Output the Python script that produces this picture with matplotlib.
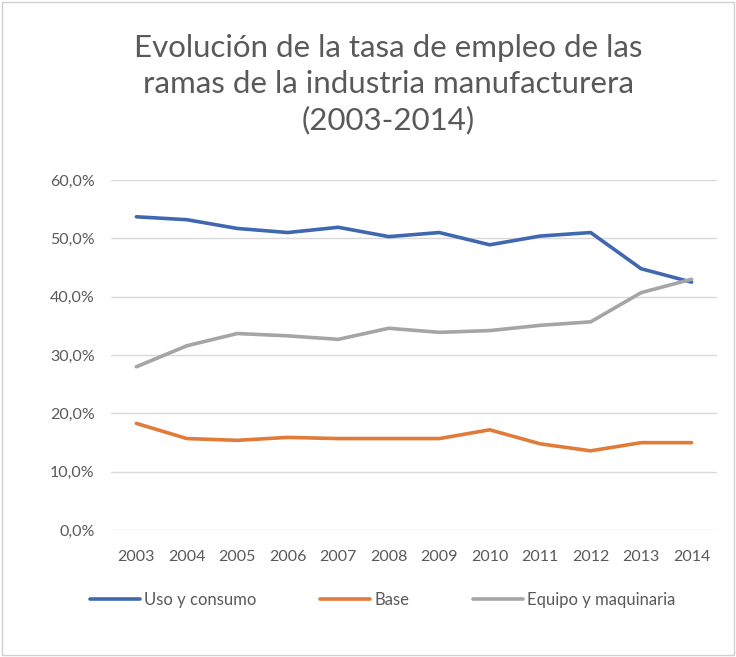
import matplotlib.pyplot as plt
from matplotlib.ticker import FuncFormatter

plt.rcParams['font.family'] = ['Lato', 'DejaVu Sans']

years = ['2003', '2004', '2005', '2006', '2007', '2008',
         '2009', '2010', '2011', '2012', '2013', '2014']
uso_consumo = [53.7, 53.2, 51.7, 51.0, 51.9, 50.3, 51.0, 48.9, 50.4, 51.0, 44.8, 42.5]
base = [18.3, 15.7, 15.4, 15.9, 15.7, 15.7, 15.7, 17.2, 14.8, 13.6, 15.0, 15.0]
equipo = [28.0, 31.6, 33.7, 33.3, 32.7, 34.6, 33.9, 34.2, 35.1, 35.7, 40.7, 43.0]

text_col = '#595959'

fig = plt.figure(figsize=(7.36, 6.57), dpi=100)
ax = fig.add_axes([0.151, 0.193, 0.823, 0.533])

x = range(len(years))
ax.plot(x, uso_consumo, color='#4068B0', lw=2.6, label='Uso y consumo', solid_capstyle='round')
ax.plot(x, base, color='#E07B39', lw=2.6, label='Base', solid_capstyle='round')
ax.plot(x, equipo, color='#A5A5A5', lw=2.6, label='Equipo y maquinaria', solid_capstyle='round')

ax.set_xlim(-0.5, 11.5)
ax.set_ylim(0, 60)
ax.set_yticks(range(0, 61, 10))
ax.yaxis.set_major_formatter(FuncFormatter(lambda v, p: f'{v:.1f}%'.replace('.', ',')))
ax.set_xticks(list(x))
ax.set_xticklabels(years)
ax.grid(axis='y', color='#D9D9D9', lw=1)
ax.set_axisbelow(True)
for s in ax.spines.values():
    s.set_visible(False)
ax.tick_params(length=0, labelsize=11.5, colors=text_col)
ax.tick_params(axis='y', pad=12)
ax.tick_params(axis='x', pad=14)

fig.text(0.528, 0.948, 'Evolución de la tasa de empleo de las\nramas de la industria manufacturera\n(2003-2014)',
         ha='center', va='top', fontsize=22.5, color=text_col, linespacing=1.33)

leg = fig.legend(loc='center', bbox_to_anchor=(0.52, 0.087), ncol=3, frameon=False,
                 fontsize=12, handlelength=3.0, columnspacing=3.8, handletextpad=0.25)
for t in leg.get_texts():
    t.set_color(text_col)

# light frame around the whole chart
fig.patches.append(plt.Rectangle((0.003, 0.003), 0.994, 0.994, transform=fig.transFigure,
                                 fill=False, edgecolor='#D0D0D0', lw=1))

fig.savefig('out.png', dpi=100)
